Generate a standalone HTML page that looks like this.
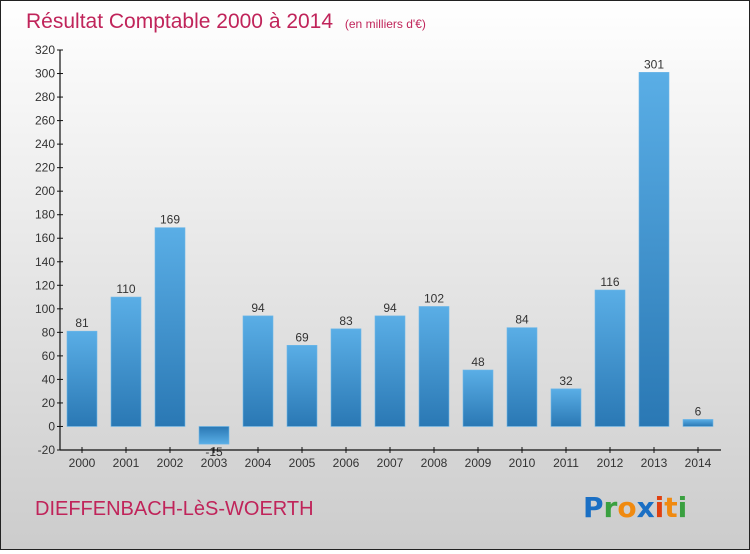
<!DOCTYPE html>
<html><head><meta charset="utf-8"><style>
html,body{margin:0;padding:0}
body{width:750px;height:550px;overflow:hidden;font-family:"Liberation Sans",sans-serif}
#wrap{position:relative;width:748px;height:548px;border:1px solid #222;background:linear-gradient(#ffffff,#cccccc)}
</style></head><body>
<div id="wrap">
<svg id="chart" width="748" height="548">
<defs>
<linearGradient id="gp" x1="0" y1="0" x2="0" y2="1"><stop offset="0" stop-color="#5aaee6"/><stop offset="1" stop-color="#2a78b4"/></linearGradient>
<linearGradient id="gn" x1="0" y1="0" x2="0" y2="1"><stop offset="0" stop-color="#2a78b4"/><stop offset="1" stop-color="#5aaee6"/></linearGradient>
</defs>
<text x="25" y="27" font-size="21" fill="#c0245a">Résultat Comptable 2000 à 2014 <tspan font-size="12" dx="6">(en milliers d'€)</tspan></text>
<g id="grid"></g>
<g id="bars"></g>
<g id="axes"></g>
<text x="34" y="514" font-size="20" fill="#c0245a">DIEFFENBACH-LèS-WOERTH</text>
<g font-size="28" font-weight="bold" font-family="'DejaVu Sans',sans-serif">
<text x="582" y="516"><tspan fill="#1a6fc4">P</tspan><tspan fill="#3aa040">r</tspan><tspan fill="#f08a10">o</tspan><tspan fill="#1a6fc4">x</tspan><tspan fill="#e04010">i</tspan><tspan fill="#f08a10">t</tspan><tspan fill="#3aa040">i</tspan></text>
</g>
</svg>
</div>
<script>
const categories=["2000","2001","2002","2003","2004","2005","2006","2007","2008","2009","2010","2011","2012","2013","2014"];
const values=[81,110,169,-15,94,69,83,94,102,48,84,32,116,301,6];
const yTicks=[-20,0,20,40,60,80,100,120,140,160,180,200,220,240,260,280,300,320];
const NS="http://www.w3.org/2000/svg";
const y0=425,yTop=49,vmin=-20,vmax=320;
function ys(v){return y0-(v-0)*(449-49)/(vmax-vmin)+0;}
function yScale(v){return 449-(v-vmin)*(449-49)/(vmax-vmin);}
function xScale(i){return 81+i*44;}
function mk(t,a,p){const e=document.createElementNS(NS,t);for(const k in a)e.setAttribute(k,a[k]);p.appendChild(e);return e;}
const axes=document.getElementById('axes'),bars=document.getElementById('bars');
const ya=mk('line',{x1:59,y1:49,x2:59,y2:449,stroke:'#111','stroke-width':1.2},axes);


const xa=mk('line',{x1:59,y1:449,x2:720,y2:449,stroke:'#111','stroke-width':1.2},axes);


yTicks.forEach(v=>{const y=yScale(v);
mk('line',{x1:56,y1:y,x2:62,y2:y,stroke:'#111'},axes);
const t=mk('text',{x:54,y:y+4,'text-anchor':'end','font-size':12,fill:'#333'},axes);t.textContent=v;

});
categories.forEach((c,i)=>{const x=xScale(i);
mk('line',{x1:x,y1:446,x2:x,y2:452,stroke:'#111'},axes);
const t=mk('text',{x:x,y:466,'text-anchor':'middle','font-size':12,fill:'#333'},axes);t.textContent=c;


const v=values[i],ya0=yScale(0),yv=yScale(v);
const r=mk('rect',{x:x-15,y:Math.min(ya0,yv),width:30,height:Math.max(1,Math.abs(yv-ya0)),fill:v<0?'url(#gn)':'url(#gp)',stroke:'#6fb8e8','stroke-width':0.6},bars);


const l=mk('text',{x:x,y:v<0?yv+12:yv-4,'text-anchor':'middle','font-size':12,fill:'#333'},bars);l.textContent=v;

});
</script>
</body></html>
